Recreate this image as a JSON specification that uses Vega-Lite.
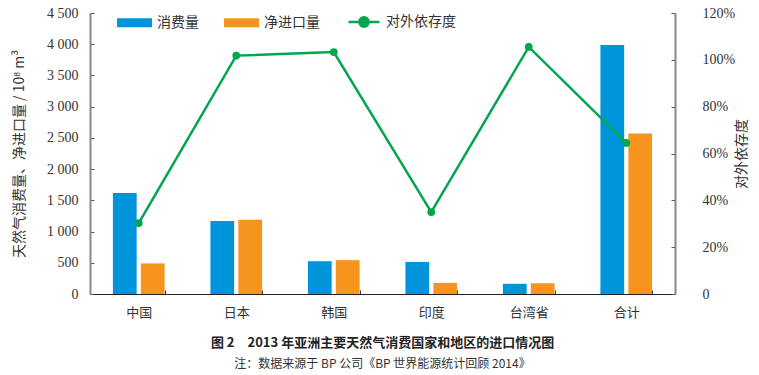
{
  "$schema": "https://vega.github.io/schema/vega-lite/v6.json",
  "width": 585,
  "height": 281,
  "autosize": {"type": "none"},
  "padding": {"left": 90, "top": 13, "right": 84, "bottom": 81},
  "background": "white",
  "datasets": {
    "bars": [
      {"region": "中国", "series": "消费量", "value": 1616},
      {"region": "中国", "series": "净进口量", "value": 490},
      {"region": "日本", "series": "消费量", "value": 1169},
      {"region": "日本", "series": "净进口量", "value": 1190},
      {"region": "韩国", "series": "消费量", "value": 525},
      {"region": "韩国", "series": "净进口量", "value": 542},
      {"region": "印度", "series": "消费量", "value": 514},
      {"region": "印度", "series": "净进口量", "value": 178},
      {"region": "台湾省", "series": "消费量", "value": 163},
      {"region": "台湾省", "series": "净进口量", "value": 172},
      {"region": "合计", "series": "消费量", "value": 3987},
      {"region": "合计", "series": "净进口量", "value": 2572}
    ],
    "ratio": [
      {"region": "中国", "name": "对外依存度", "ratio": 0.303},
      {"region": "日本", "name": "对外依存度", "ratio": 1.018},
      {"region": "韩国", "name": "对外依存度", "ratio": 1.033},
      {"region": "印度", "name": "对外依存度", "ratio": 0.35},
      {"region": "台湾省", "name": "对外依存度", "ratio": 1.055},
      {"region": "合计", "name": "对外依存度", "ratio": 0.645}
    ]
  },
  "title": {
    "text": "图 2　2013 年亚洲主要天然气消费国家和地区的进口情况图",
    "subtitle": "注：数据来源于 BP 公司《BP 世界能源统计回顾 2014》",
    "orient": "bottom",
    "anchor": "middle",
    "font": "Noto Sans CJK SC",
    "fontSize": 13,
    "fontWeight": "bold",
    "color": "#222222",
    "subtitleFont": "Noto Sans CJK SC",
    "subtitleFontSize": 12,
    "subtitleColor": "#333333",
    "subtitlePadding": 9,
    "offset": 18
  },
  "config": {
    "view": {"stroke": null},
    "axis": {"grid": false}
  },
  "encoding": {
    "x": {
      "field": "region",
      "type": "nominal",
      "sort": ["中国", "日本", "韩国", "印度", "台湾省", "合计"],
      "scale": {"paddingInner": 0.47, "paddingOuter": 0.235},
      "axis": {
        "title": null,
        "labelAngle": 0,
        "tickBand": "extent",
        "tickSize": -4,
        "tickColor": "#333333",
        "domainColor": "#222222",
        "domainWidth": 1.2,
        "labelFont": "Noto Sans CJK SC",
        "labelFontSize": 13,
        "labelColor": "#333333",
        "labelPadding": 16
      }
    }
  },
  "layer": [
    {
      "data": {"name": "bars"},
      "mark": {"type": "bar"},
      "encoding": {
        "xOffset": {
          "field": "series",
          "type": "nominal",
          "sort": ["消费量", "净进口量"],
          "scale": {"paddingInner": 0.15}
        },
        "y": {
          "field": "value",
          "type": "quantitative",
          "scale": {"domain": [0, 4500]},
          "axis": {
            "orient": "left",
            "values": [0, 500, 1000, 1500, 2000, 2500, 3000, 3500, 4000, 4500],
            "labelExpr": "replace(format(datum.value, ','), ',', ' ')",
            "title": "天然气消费量、净进口量 / 10⁸ m³",
            "titleFont": "Noto Sans CJK SC",
            "titleFontSize": 14,
            "titleFontWeight": "normal",
            "titleColor": "#333333",
            "titlePadding": 20,
            "labelFont": "Liberation Serif",
            "labelFontSize": 14,
            "labelColor": "#333333",
            "tickSize": -4,
            "tickColor": "#555555",
            "labelPadding": 16,
            "domainColor": "#888888",
            "domainWidth": 2
          }
        },
        "fill": {
          "field": "series",
          "type": "nominal",
          "sort": ["消费量", "净进口量"],
          "scale": {"domain": ["消费量", "净进口量"], "range": ["#0095DA", "#F7941D"]},
          "legend": {
            "title": null,
            "orient": "none",
            "direction": "horizontal",
            "legendX": 27,
            "legendY": -8,
            "symbolType": "M-1,-0.26H1V0.26H-1Z",
            "symbolSize": 1225,
            "symbolStrokeWidth": 0,
            "labelFont": "Noto Sans CJK SC",
            "labelFontSize": 14,
            "labelColor": "#333333",
            "labelOffset": 5,
            "columnPadding": 25
          }
        }
      }
    },
    {
      "data": {"name": "ratio"},
      "encoding": {
        "y": {
          "field": "ratio",
          "type": "quantitative",
          "scale": {"domain": [0, 1.2]},
          "axis": {
            "orient": "right",
            "values": [0, 0.2, 0.4, 0.6, 0.8, 1.0, 1.2],
            "labelExpr": "datum.value == 0 ? '0' : format(datum.value, '.0%')",
            "title": "对外依存度",
            "titleAngle": -90,
            "titleFont": "Noto Sans CJK SC",
            "titleFontSize": 14,
            "titleFontWeight": "normal",
            "titleColor": "#333333",
            "titlePadding": 14,
            "labelFont": "Liberation Serif",
            "labelFontSize": 14,
            "labelColor": "#333333",
            "tickSize": -4,
            "tickColor": "#555555",
            "labelPadding": 31,
            "domainColor": "#888888",
            "domainWidth": 2
          }
        }
      },
      "layer": [
        {
          "mark": {"type": "line", "strokeWidth": 2.5},
          "encoding": {
            "stroke": {
              "field": "name",
              "type": "nominal",
              "scale": {"domain": ["对外依存度"], "range": ["#00A650"]},
              "legend": {
                "title": null,
                "orient": "none",
                "legendX": 257,
                "legendY": -8,
                "symbolType": "M-1,0H1M0.3,0A0.3,0.3 0 1,1 -0.3,0A0.3,0.3 0 1,1 0.3,0Z",
                "symbolSize": 961,
                "symbolStrokeWidth": 2.5,
                "symbolFillColor": "#00A650",
                "labelFont": "Noto Sans CJK SC",
                "labelFontSize": 14,
                "labelColor": "#333333",
                "labelOffset": 5
              }
            }
          }
        },
        {
          "mark": {"type": "point", "filled": true, "size": 60, "color": "#00A650", "opacity": 1}
        }
      ]
    }
  ],
  "resolve": {"scale": {"y": "independent"}}
}
